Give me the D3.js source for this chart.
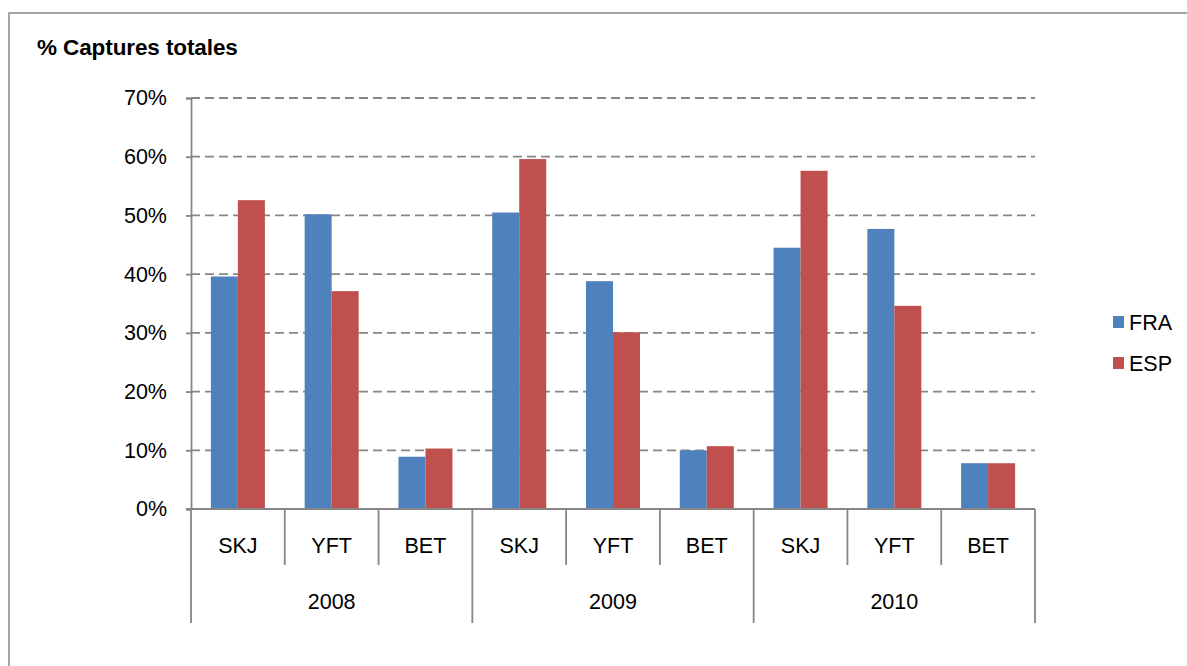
<!DOCTYPE html>
<html>
<head>
<meta charset="utf-8">
<script src="https://cdn.jsdelivr.net/npm/d3@7"></script>
<style>
  body { margin: 0; background: #fff; }
  svg { display: block; font-family: "Liberation Sans", Arial, sans-serif; }
</style>
</head>
<body>
<div id="chart"></div>
<script>
// data
var years = ['2008', '2009', '2010']
var species = ['SKJ', 'YFT', 'BET']
var seriesNames = ['FRA', 'ESP']
var fra = [39.6, 50.2, 8.9, 50.5, 38.8, 10.0, 44.5, 47.7, 7.8]
var esp = [52.6, 37.1, 10.3, 59.6, 30.1, 10.7, 57.6, 34.6, 7.8]
var yTicks = [0, 10, 20, 30, 40, 50, 60, 70]
var colors = ['#4F81BD', '#C0504D']

var chart_width = 1187
var chart_height = 666
var gridColor = '#868686'
var fontSize = 21.5

// one entry per category (year + species)
var cats = []
years.forEach(function(yr){
    species.forEach(function(sp){
        cats.push(yr + '|' + sp)
    })
})
var values = [fra, esp]

var svg = d3.select('#chart')
    .append('svg')
    .attr('width', chart_width)
    .attr('height', chart_height)

// outer border
svg.append('rect')
    .attr('x', 9)
    .attr('y', 13)
    .attr('width', 1300)
    .attr('height', 800)
    .attr('fill', 'none')
    .attr('stroke', gridColor)
    .attr('stroke-width', 1.5)

svg.append('text')
    .attr('x', 37)
    .attr('y', 55)
    .attr('font-size', 22.5)
    .attr('font-weight', 'bold')
    .attr('letter-spacing', -0.1)
    .text('% Captures totales')

var plotLeft = 191, plotRight = 1035
var y = d3.scaleLinear().domain([0, 70]).range([509, 98])
var x = d3.scaleBand().domain(cats).range([plotLeft, plotRight])
    .paddingInner(0.424).paddingOuter(0.212)
var xs = d3.scaleBand().domain(seriesNames).range([0, x.bandwidth()])
var step = x.step()

// gridlines
svg.selectAll('.grid')
    .data(yTicks.filter(function(d){ return d > 0 }))
    .enter()
    .append('line')
    .attr('x1', plotLeft)
    .attr('x2', plotRight)
    .attr('y1', function(d){ return y(d) })
    .attr('y2', function(d){ return y(d) })
    .attr('stroke', gridColor)
    .attr('stroke-width', 1.8)
    .attr('stroke-dasharray', '9,5')

// bars
seriesNames.forEach(function(s, si){
    svg.selectAll('.bar' + s)
        .data(values[si])
        .enter()
        .append('rect')
        .attr('x', function(d, i){ return x(cats[i]) + xs(s) })
        .attr('y', function(d){ return y(d) })
        .attr('width', xs.bandwidth())
        .attr('height', function(d){ return y(0) - y(d) })
        .style('fill', colors[si])
})

// y axis
var yAxis = svg.append('g')
    .attr('transform', 'translate(' + plotLeft + ',0)')
    .call(d3.axisLeft(y).tickValues(yTicks).tickSize(5).tickPadding(19)
        .tickFormat(function(d){ return d + '%' }))
yAxis.select('.domain').attr('stroke', gridColor).attr('stroke-width', 1.8)
yAxis.selectAll('.tick line').attr('stroke', gridColor).attr('stroke-width', 1.8)
yAxis.selectAll('.tick text')
    .attr('font-size', fontSize)
    .attr('fill', '#000')
    .attr('font-family', '"Liberation Sans", Arial, sans-serif')

// x axis line
svg.append('line')
    .attr('x1', plotLeft - 5)
    .attr('x2', plotRight)
    .attr('y1', y(0))
    .attr('y2', y(0))
    .attr('stroke', gridColor)
    .attr('stroke-width', 1.8)

// category separators
var bounds = d3.range(cats.length + 1)
svg.selectAll('.sep')
    .data(bounds)
    .enter()
    .append('line')
    .attr('x1', function(d){ return plotLeft + d * step })
    .attr('x2', function(d){ return plotLeft + d * step })
    .attr('y1', y(0))
    .attr('y2', function(d){ return d % 3 === 0 ? 623 : 565 })
    .attr('stroke', gridColor)
    .attr('stroke-width', 1.8)

// category labels
svg.selectAll('.catlab')
    .data(cats)
    .enter()
    .append('text')
    .attr('x', function(d){ return x(d) + x.bandwidth() / 2 })
    .attr('y', 553)
    .attr('text-anchor', 'middle')
    .attr('font-size', fontSize)
    .text(function(d){ return d.split('|')[1] })

// year labels
svg.selectAll('.yearlab')
    .data(years)
    .enter()
    .append('text')
    .attr('x', function(d, i){ return plotLeft + (i * 3 + 1.5) * step })
    .attr('y', 609)
    .attr('text-anchor', 'middle')
    .attr('font-size', fontSize)
    .text(function(d){ return d })

// legend
var legend = svg.selectAll('.legend')
    .data(seriesNames)
    .enter()
    .append('g')
    .attr('transform', function(d, i){ return 'translate(1113,' + (316 + i * 41) + ')' })
legend.append('rect')
    .attr('width', 11)
    .attr('height', 12)
    .style('fill', function(d, i){ return colors[i] })
legend.append('text')
    .attr('x', 16)
    .attr('y', 14)
    .attr('font-size', fontSize)
    .text(function(d){ return d })
</script>
</body>
</html>
